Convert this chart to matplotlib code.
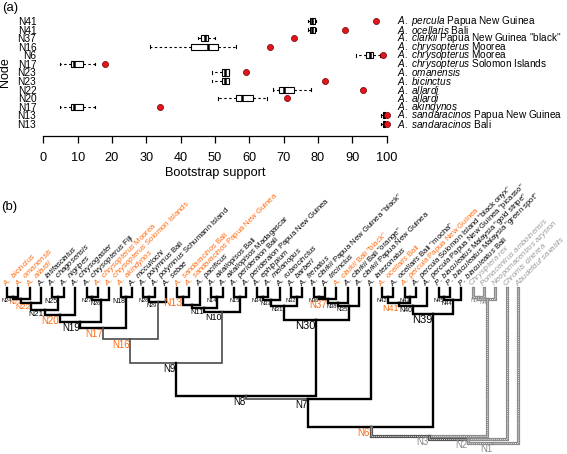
import matplotlib
matplotlib.use("Agg")
from matplotlib import pyplot as plt

plt.rcParams["font.family"] = ["Liberation Sans", "DejaVu Sans"]
plt.rcParams["mathtext.fontset"] = "custom"
plt.rcParams["mathtext.rm"] = "Liberation Sans"
plt.rcParams["mathtext.it"] = "Liberation Sans:italic"

ORANGE = "#ff6a10"
GREY = "#9a9a9a"
RED = "#e3141b"

# ---- panel (a): bootstrap support per node ----
row_nodes = ["N41", "N41", "N37", "N16", "N6", "N17", "N23", "N23",
             "N22", "N20", "N17", "N13", "N13"]
row_species = ["A. percula", "A. ocellaris", "A. clarkii", "A. chrysopterus",
               "A. chrysopterus", "A. chrysopterus", "A. omanensis",
               "A. bicinctus", "A. allardi", "A. allardi", "A. akindynos",
               "A. sandaracinos", "A. sandaracinos"]
row_place = ["Papua New Guinea", "Bali", 'Papua New Guinea "black"', "Moorea",
             "Moorea", "Solomon Islands", "", "", "", "", "",
             "Papua New Guinea", "Bali"]
whis_lo = [77, 77, 45, 31, 91, 5, 49, 49, 67, 51, 5, 98.3, 98.3]
box_q1 = [77.7, 77.7, 46, 43, 94, 8, 52, 52, 68.5, 56, 8, 98.8, 98.8]
box_med = [78.2, 78.2, 47, 48, 95, 9, 53, 53, 70, 58, 9, 99.2, 99.2]
box_q3 = [79, 79, 48, 51, 96, 11.5, 54, 54, 73, 61, 11.5, 99.6, 99.6]
whis_hi = [79.3, 79.3, 50, 56, 98, 15, 54, 54, 78, 65, 15, 99.8, 99.8]
observed = [97, 88, 73, 66, 99, 18, 59, 82, 93, 71, 34, 100, 100]

# ---- panel (b): cladogram ----
tip_species = ["A. bicinctus", "A. omanensis", "A. allardi", "A. latifasciatus",
               "A. chagosensis", "A. nigripes", "A. chrysogaster",
               "A. chrysopterus", "A. chrysopterus", "A. chrysopterus",
               "A. akindynos", "A. mccullochi", "A. polymnus", "A. polymnus",
               "A. sebae", "A. sandaracinos", "A. sandaracinos", "A. pacificus",
               "A. akallopisos", "A. akallopisos", "A. perideraion",
               "A. perideraion", "A. ephippium", "A. melanopus",
               "A. rubrocinctus", "A. barberi", "A. frenatus", "A. clarkii",
               "A. tricinctus", "A. clarkii", "A. clarkii", "A. clarkii",
               "A. latezonatus", "A. ocellaris", "A. ocellaris", "A. percula",
               "A. percula", "A. percula", "P. biaculeatus", "P. biaculeatus",
               "P. biaculeatus", "Chrysiptera rex", "Pomacentrus amboinensis",
               "Neopomacentrus azysron", "Chromis cinerea",
               "Abudefduf saxatilis"]
tip_place = ["", "", "", "", "", "", "", "Fiji", "Moorea", "Solomon Islands",
             "", "", "Bali", "Schumann Island", "", "Bali", "Papua New Guinea",
             "", "Bali", "Madagascar", "Bali", "Papua New Guinea", "", "", "",
             "", "", 'Papua New Guinea "black"', "", 'Bali "black"',
             'Bali "orange"', "Papua New Guinea", "", "Bali", 'Bali "mocha"',
             "Papua New Guinea", 'Solomon Island "black onyx"',
             'Papua New Guinea "picasso"', 'Malaysia "gold stripe"',
             'Malaysia "green spot"', "Bali", "", "", "", "", ""]
tip_orange = [0, 1, 2, 8, 9, 10, 15, 16, 29, 33, 35]
tip_grey = [41, 42, 43, 44, 45]

# node name, children (tip index or node name), depth below the tips
node_names = ["N24", "N23", "N22", "N25", "N21", "N20", "N27", "N26", "N19",
              "N18", "N17", "N28", "N29", "N16", "N13", "N12", "N14", "N11",
              "N15", "N10", "N9", "N34", "N33", "N32", "N31", "N36", "N37",
              "N38", "N35", "N30", "N8", "N7", "N42", "N43", "N41", "N40",
              "N45", "N44", "N39", "N6", "N5", "N4", "N3", "N2", "N1"]
node_children = [[0, 1], ["N24", 2], ["N23", 3], [4, 5], ["N22", "N25"],
                 ["N21", 6], [7, 8], ["N27", 9], ["N20", "N26"], [10, 11],
                 ["N19", "N18"], [12, 13], ["N28", 14], ["N17", "N29"],
                 [15, 16], ["N13", 17], [18, 19], ["N12", "N14"], [20, 21],
                 ["N11", "N15"], ["N16", "N10"], [22, 23], ["N34", 24],
                 [25, 26], ["N33", "N32"], [27, 28], ["N36", 29], ["N37", 30],
                 ["N38", 31], ["N31", "N35"], ["N9", "N30"], ["N8", 32],
                 [33, 34], [35, 36], ["N42", "N43"], ["N41", 37], [38, 39],
                 ["N45", 40], ["N40", "N44"], ["N7", "N39"], [41, 42],
                 ["N5", 43], ["N6", "N4"], ["N3", 44], ["N2", 45]]
node_depth = [9, 11, 15, 9, 22, 27, 9, 12, 34, 9, 40, 9, 14, 51, 9, 17, 9, 20,
              9, 24, 75, 9, 12, 9, 18, 9, 11, 15, 18, 32, 108, 111, 9, 9, 15,
              18, 9, 12, 26, 139, 9, 11, 148, 151, 155]
node_label_size = [4, 4.5, 6, 5, 6, 7, 4, 4, 7, 5, 7, 4, 4, 7, 7.5, 0, 4, 5.5,
                   4, 6.5, 7, 4, 4, 4, 4.5, 4, 7, 4, 4.5, 8, 7, 7, 4, 4, 6.5,
                   5, 4, 4, 8, 7, 4, 4, 7, 7, 7]
node_orange = ["N23", "N22", "N20", "N17", "N16", "N13", "N37", "N41", "N6"]
node_grey = ["N5", "N4", "N3", "N2", "N1"]
thin_edges = ["N17", "N29", "N16", "N10", "N8"]
outgroup_edges = ["N5", "N4", "N3", "N2", 41, 42, 43, 44, 45]


def mixed_label(species, place):
    name = species.replace(" ", r"\ ")
    text = r"$\mathit{" + name + "}$"
    if place:
        text += " " + place
    return text


def draw_support(ax):
    rows = list(range(1, len(row_nodes) + 1))
    stats = []
    for i in range(len(rows)):
        stats.append(dict(med=box_med[i], q1=box_q1[i], q3=box_q3[i],
                          whislo=whis_lo[i], whishi=whis_hi[i], fliers=[]))
    ax.bxp(stats, positions=rows, orientation="horizontal", widths=0.72,
           capwidths=0.3, showfliers=False, patch_artist=True,
           boxprops=dict(facecolor="white", edgecolor="black", lw=0.8),
           whiskerprops=dict(color="black", lw=0.8, linestyle=(0, (2.2, 2.2))),
           capprops=dict(color="black", lw=0.8),
           medianprops=dict(color="black", lw=1.8))
    ax.plot(observed, rows, "o", ms=4.4, mfc=RED, mec="#700000", mew=0.5,
            clip_on=False, zorder=5)
    for r, sp, pl in zip(rows, row_species, row_place):
        ax.text(103, r, mixed_label(sp, pl), fontsize=7.2, va="center",
                ha="left", clip_on=False)
    ax.set_xlim(0, 100)
    ax.set_ylim(13.82, 0.18)
    ax.set_xticks(range(0, 101, 10))
    ax.set_yticks(rows)
    ax.set_yticklabels(row_nodes, fontsize=7.3)
    ax.tick_params(axis="y", length=0, pad=5)
    ax.tick_params(axis="x", length=4.8, width=0.9, labelsize=9.2, pad=7)
    for side in ["left", "top", "right"]:
        ax.spines[side].set_visible(False)
    ax.spines["bottom"].set_position(("outward", 3.6))
    ax.spines["bottom"].set_bounds(0, 100)
    ax.spines["bottom"].set_linewidth(0.9)
    ax.set_xlabel("Bootstrap support", fontsize=9.2, labelpad=2)


def draw_tree(ax):
    pos = {}
    depth = {}
    for i in range(len(tip_species)):
        pos[i] = i
        depth[i] = 0
    for name, kids, d in zip(node_names, node_children, node_depth):
        pos[name] = sum(pos[k] for k in kids) / len(kids)
        depth[name] = d

    for name, kids in zip(node_names, node_children):
        for k in kids:
            xs = [pos[k], pos[k], pos[name]]
            ys = [depth[k], depth[name], depth[name]]
            if k in outgroup_edges or (k == "N6"):
                outer = "#555555" if k in ("N6", "N3") else "#8c8c8c"
                ax.plot(xs, ys, color=outer, lw=2.3, solid_joinstyle="miter")
                ax.plot(xs, ys, color="#e0e0e0", lw=0.7,
                        linestyle=(0, (1, 1)))
            elif k in thin_edges:
                ax.plot(xs, ys, color="#4a4a4a", lw=1.2,
                        solid_joinstyle="miter")
            else:
                ax.plot(xs, ys, color="black", lw=1.7,
                        solid_joinstyle="miter")

    for name, size in zip(node_names, node_label_size):
        if size == 0:
            continue
        colour = "black"
        if name in node_orange:
            colour = ORANGE
        elif name in node_grey:
            colour = "#8a8a8a"
        ax.text(pos[name] - 0.05, depth[name] + 1.0, name, fontsize=size,
                color=colour, ha="right", va="top")

    for i, (sp, pl) in enumerate(zip(tip_species, tip_place)):
        colour = "black"
        if i in tip_orange:
            colour = ORANGE
        elif i in tip_grey:
            colour = GREY
        ax.text(i - 0.25, -3.2, mixed_label(sp, pl), fontsize=5.6,
                color=colour, rotation=45, rotation_mode="anchor",
                ha="left", va="center")

    ax.set_xlim(-7 / 11.36, 560 / 11.36)
    ax.set_ylim(166, -98)
    ax.axis("off")


def main():
    fig = plt.figure(figsize=(5.67, 4.54), dpi=100)
    ax_a = fig.add_axes([43.3 / 567, 1 - 131 / 454, 343.4 / 567, 117 / 454])
    draw_support(ax_a)
    fig.text(5 / 567, 1 - 72 / 454, "Node", fontsize=9, rotation=90,
             ha="center", va="center")
    fig.text(2 / 567, 1 - 2 / 454, "(a)", fontsize=9.5, ha="left", va="top")
    fig.text(1 / 567, 1 - 201 / 454, "(b)", fontsize=9.5, ha="left", va="top")

    ax_b = fig.add_axes([0, 0, 1, 264 / 454])
    draw_tree(ax_b)
    fig.savefig("out.png", dpi=100)


if __name__ == "__main__":
    main()
